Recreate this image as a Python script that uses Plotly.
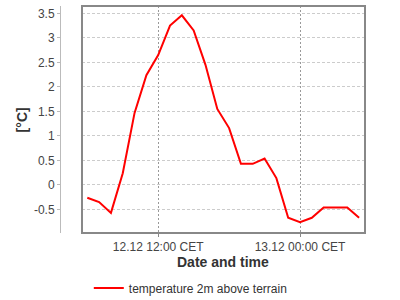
import plotly.graph_objects as go
import pandas as pd

times = pd.date_range("2024-12-12 06:00", periods=24, freq="h")
temps = [-0.26, -0.35, -0.57, 0.24, 1.47, 2.24, 2.65, 3.25, 3.46, 3.15, 2.45, 1.55,
         1.16, 0.43, 0.43, 0.54, 0.14, -0.67, -0.76, -0.67, -0.46, -0.46, -0.46, -0.67]
series_name = "temperature 2m above terrain"
x_tickvals = ["2024-12-12 12:00", "2024-12-13 00:00"]
x_ticktext = ["12.12 12:00 CET", "13.12 00:00 CET"]
x_range = ["2024-12-12 05:33", "2024-12-13 05:30"]
y_range = [-0.98, 3.65]
y_tickvals = [-0.5, 0, 0.5, 1, 1.5, 2, 2.5, 3, 3.5]
y_ticktext = ["-0.5", "0", "0.5", "1", "1.5", "2", "2.5", "3", "3.5"]

font = "Liberation Sans, Arial, sans-serif"

fig = go.Figure()
fig.add_trace(go.Scatter(x=times, y=temps, mode="lines", name=series_name,
                         line=dict(color="#ff0000", width=2), yaxis="y"))
fig.add_trace(go.Scatter(x=times, y=temps, mode="lines", showlegend=False,
                         opacity=0, hoverinfo="skip", yaxis="y2"))

fig.update_layout(
    width=400, height=300,
    margin=dict(l=60, r=35, t=6, b=67),
    paper_bgcolor="white", plot_bgcolor="white",
    font=dict(family=font, size=12, color="#444"),
    xaxis=dict(type="date", range=x_range, domain=[0.0721, 1],
               tickvals=x_tickvals, ticktext=x_ticktext,
               showgrid=True, gridcolor="#999", griddash="2px,2px", gridwidth=1,
               ticks="outside", ticklen=3, tickcolor="#888",
               showline=False, zeroline=False,
               tickfont=dict(size=12, color="#444")),
    yaxis=dict(range=y_range, tickvals=y_tickvals, showticklabels=False,
               showgrid=True, gridcolor="#cccccc", griddash="3px,2px", gridwidth=1,
               zeroline=False, showline=False, ticks=""),
    yaxis2=dict(range=y_range, overlaying="y", anchor="free", position=0,
                tickvals=y_tickvals, ticktext=y_ticktext,
                showgrid=False, zeroline=False, showline=True, linecolor="#bbb",
                linewidth=1, ticks="outside", ticklen=3, tickcolor="#bbb",
                tickfont=dict(size=12, color="#444")),
    legend=dict(orientation="h", xref="container", yref="container",
                x=0.477, xanchor="center", y=0.04, yanchor="middle",
                font=dict(size=12, color="#333"), itemwidth=30),
    showlegend=True,
)

fig.add_shape(type="rect", xref="x domain", yref="y domain", x0=0, x1=1, y0=0, y1=1,
              line=dict(color="#888888", width=2), layer="above")

fig.add_annotation(text="<b>Date and time</b>", xref="x domain", yref="paper",
                   x=0.5, y=-0.127, yanchor="middle", showarrow=False,
                   font=dict(size=14, color="#333"))
fig.add_annotation(text="<b>[°C]</b>", xref="paper", yref="y domain", textangle=-90,
                   x=-0.125, y=0.5, xanchor="center", showarrow=False,
                   font=dict(size=14, color="#333"))

fig.write_html("out.html")
